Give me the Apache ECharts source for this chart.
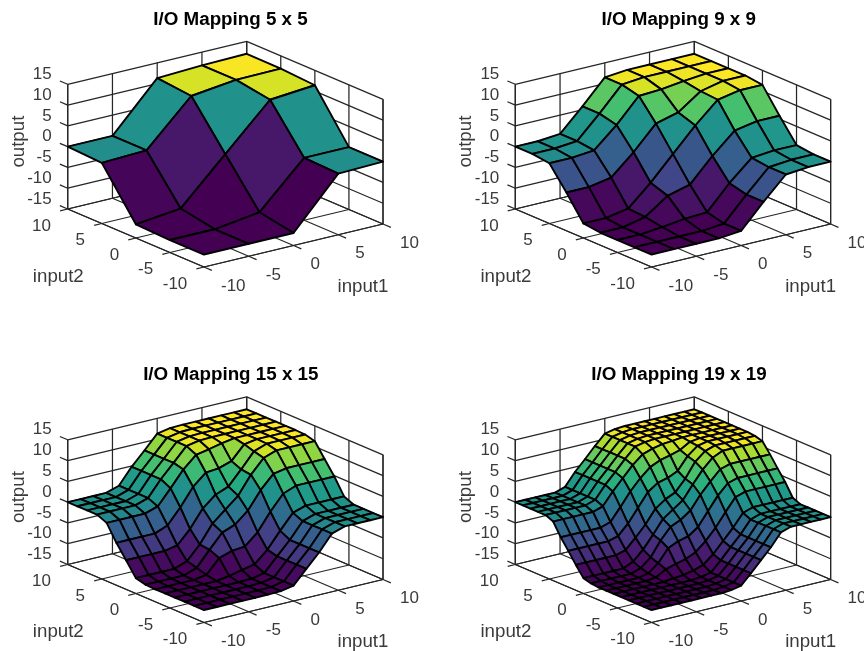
<!DOCTYPE html>
<html><head><meta charset="utf-8">
<style>html,body{margin:0;padding:0;background:#fff}#c{width:864px;height:651px;filter:blur(.35px)}</style>
<script src="https://cdn.jsdelivr.net/npm/echarts@6/dist/echarts.min.js"></script>
</head><body><div id="c"></div>
<script>
const titles = ['I/O Mapping 5 x 5','I/O Mapping 9 x 9','I/O Mapping 15 x 15','I/O Mapping 19 x 19'];
const xyTicks = [-10,-5,0,5,10];
const zTicks = [-15,-10,-5,0,5,10,15];
const input5 = [-10,-5,0,5,10];
const input9 = [-10,-7.5,-5,-2.5,0,2.5,5,7.5,10];
const input15 = [-10,-8.571,-7.143,-5.714,-4.286,-2.857,-1.429,0,1.429,2.857,4.286,5.714,7.143,8.571,10];
const input19 = [-10,-8.889,-7.778,-6.667,-5.556,-4.444,-3.333,-2.222,-1.111,0,1.111,2.222,3.333,4.444,5.556,6.667,7.778,8.889,10];
const output5 = [
[-12,-12,-12,-0.3,0],
[-12,-12,-10.5,0,0],
[-11.7,-10.5,0,10.5,11.4],
[-0.4,0,10.5,11.8,11.9],
[0,0,11.3,11.8,12]];
const output9 = [
[-12,-12,-12,-12,-11.5,-5.8,-0.5,0,0],
[-12,-12,-12,-12,-11.5,-5.8,-0.5,0,0],
[-12,-12,-11.5,-10.8,-10.5,-4.8,0,0.5,0.5],
[-12,-12,-10.8,-7,-5.6,0,4.8,5.8,5.8],
[-11.5,-11.5,-10.5,-5.6,0,5.6,10.5,11.5,11.5],
[-5.8,-5.8,-4.8,0,5.6,7,10.8,12,12],
[-0.5,-0.5,0,4.8,10.5,10.8,11.5,12,12],
[0,0,0.5,5.8,11.5,12,12,12,12],
[0,0,0.5,5.8,11.5,12,12,12,12]];
const output15 = [
[-12,-12,-12,-12,-12,-12,-11.9,-11.3,-8,-4.8,-1,0,0,0,0],
[-12,-12,-12,-12,-12,-12,-11.9,-11.3,-8,-4.8,-1,0,0,0,0],
[-12,-12,-12,-12,-12,-12,-11.9,-11.3,-8,-4.8,-1,0,0,0,0],
[-12,-12,-12,-12,-12,-12,-11.9,-11.3,-8,-4.8,-1,0,0,0,0],
[-12,-12,-12,-12,-12,-11.5,-10.8,-10.2,-7.4,-3.6,0,1,1,1,1],
[-12,-12,-12,-12,-11.5,-8.2,-7.2,-6.9,-4.2,0,3.6,4.8,4.8,4.8,4.8],
[-11.9,-11.9,-11.9,-11.9,-10.8,-7.2,-3.8,-2.6,0,4.2,7.4,8,8,8,8],
[-11.3,-11.3,-11.3,-11.3,-10.2,-6.9,-2.6,0,2.6,6.9,10.2,11.3,11.3,11.3,11.3],
[-8,-8,-8,-8,-7.4,-4.2,0,2.6,3.8,7.2,10.8,11.9,11.9,11.9,11.9],
[-4.8,-4.8,-4.8,-4.8,-3.6,0,4.2,6.9,7.2,8.2,11.5,12,12,12,12],
[-1,-1,-1,-1,0,3.6,7.4,10.2,10.8,11.5,12,12,12,12,12],
[0,0,0,0,1,4.8,8,11.3,11.9,12,12,12,12,12,12],
[0,0,0,0,1,4.8,8,11.3,11.9,12,12,12,12,12,12],
[0,0,0,0,1,4.8,8,11.3,11.9,12,12,12,12,12,12],
[0,0,0,0,1,4.8,8,11.3,11.9,12,12,12,12,12,12]];
const output19 = [
[-12,-12,-12,-12,-12,-12,-12,-12,-11.8,-11.3,-8.9,-6.3,-3.8,-0.8,0,0,0,0,0],
[-12,-12,-12,-12,-12,-12,-12,-12,-11.8,-11.3,-8.9,-6.3,-3.8,-0.8,0,0,0,0,0],
[-12,-12,-12,-12,-12,-12,-12,-12,-11.8,-11.3,-8.9,-6.3,-3.8,-0.8,0,0,0,0,0],
[-12,-12,-12,-12,-12,-12,-12,-12,-11.8,-11.3,-8.9,-6.3,-3.8,-0.8,0,0,0,0,0],
[-12,-12,-12,-12,-12,-12,-12,-12,-11.8,-11.3,-8.9,-6.3,-3.8,-0.8,0,0,0,0,0],
[-12,-12,-12,-12,-12,-12,-11.7,-11.5,-11,-10.2,-8.2,-5.6,-3,0,0.8,0.8,0.8,0.8,0.8],
[-12,-12,-12,-12,-12,-11.7,-10.3,-9.6,-9,-7.9,-5.8,-3.2,0,3,3.8,3.8,3.8,3.8,3.8],
[-12,-12,-12,-12,-12,-11.5,-9.6,-6.6,-5.5,-4.9,-3.2,0,3.2,5.6,6.3,6.3,6.3,6.3,6.3],
[-11.8,-11.8,-11.8,-11.8,-11.8,-11,-9,-5.5,-2.8,-1.7,0,3.2,5.8,8.2,8.9,8.9,8.9,8.9,8.9],
[-11.3,-11.3,-11.3,-11.3,-11.3,-10.2,-7.9,-4.9,-1.7,0,1.7,4.9,7.9,10.2,11.3,11.3,11.3,11.3,11.3],
[-8.9,-8.9,-8.9,-8.9,-8.9,-8.2,-5.8,-3.2,0,1.7,2.8,5.5,9,11,11.8,11.8,11.8,11.8,11.8],
[-6.3,-6.3,-6.3,-6.3,-6.3,-5.6,-3.2,0,3.2,4.9,5.5,6.6,9.6,11.5,12,12,12,12,12],
[-3.8,-3.8,-3.8,-3.8,-3.8,-3,0,3.2,5.8,7.9,9,9.6,10.3,11.7,12,12,12,12,12],
[-0.8,-0.8,-0.8,-0.8,-0.8,0,3,5.6,8.2,10.2,11,11.5,11.7,12,12,12,12,12,12],
[0,0,0,0,0,0.8,3.8,6.3,8.9,11.3,11.8,12,12,12,12,12,12,12,12],
[0,0,0,0,0,0.8,3.8,6.3,8.9,11.3,11.8,12,12,12,12,12,12,12,12],
[0,0,0,0,0,0.8,3.8,6.3,8.9,11.3,11.8,12,12,12,12,12,12,12,12],
[0,0,0,0,0,0.8,3.8,6.3,8.9,11.3,11.8,12,12,12,12,12,12,12,12],
[0,0,0,0,0,0.8,3.8,6.3,8.9,11.3,11.8,12,12,12,12,12,12,12,12]];
const viridis = ['#440154','#482475','#414487','#355f8d','#2a788e','#21918c','#22a884','#44bf70','#7ad151','#bddf26','#fde725'];

const inputs = [input5,input9,input15,input19];
const outputs = [output5,output9,output15,output19];
const panelOrigin = [[67.7,41.3],[515.3,41.3],[67.7,396.8],[515.3,396.8]];
const titleCentre = [[225.5,15],[673.7,15],[225.8,370],[674,370]];
const PW=315.3, PH=225.7;
// orthographic view: fractions of the projected box
const U0=.4323, UX=.5677, UY=-.4323, VX=.1905, VY=.257, VZ=.5525;
function proj(x,y,z){
  const a=(x+10)/20,b=(y+10)/20,c=(z+15)/30;
  return [U0+UX*a+UY*b, VX*a+VY*b+VZ*c];
}
const AXC='#262626', TXT='#3a3a3a', FONT='Liberation Sans', FS=17, FSL=18.7;
const colorOf=z=>echarts.color.lerp(Math.max(0,Math.min(1,(z+12)/24)),viridis);

function wallSegments(){
  const s=[];
  xyTicks.forEach(t=>{
    s.push([t,10,-15,t,10,15,0],[10,t,-15,10,t,15,0],[t,-10,-15,t,10,-15,0],[-10,t,-15,10,t,-15,0]);
  });
  zTicks.forEach(t=>{ s.push([-10,10,t,10,10,t,0],[10,-10,t,10,10,t,0]); });
  s.push([-10,10,-15,-10,10,15,1],[10,-10,-15,10,-10,15,1],[-10,-10,-15,10,-10,-15,1],[-10,-10,-15,-10,10,-15,1]);
  zTicks.forEach(t=>s.push([-10,10,t,-10,11.15,t,1]));
  xyTicks.forEach(t=>{ s.push([t,-10,-15,t,-11.15,-15,1],[-10,t,-15,-10-0.85,t,-15,1]); });
  return s;
}
function textItems(){
  const r=[];
  zTicks.forEach(t=>r.push([-10,10,t,String(t),-16,-10,'right',0,FS]));
  xyTicks.forEach(t=>{
    r.push([t,-10,-15,String(t),17,19,'left',0,FS]);
    r.push([-10,t,-15,String(t),-16.7,17,'right',0,FS]);
  });
  r.push([10,-10,-15,'input1',-20,62.5,'center',0,FSL]);
  r.push([-10,10,-15,'input2',-9.4,67.5,'center',0,FSL]);
  r.push([-10,10,0,'output',-49,-5,'center',Math.PI/2,FSL]);
  return r;
}
function coordOf(api,p){ return api.coord(proj(p[0],p[1],p[2])); }
const series=[];
inputs.forEach((inp,k)=>{
  const zs=outputs[k], n=inp.length, faces=[];
  for(let s=2*(n-2);s>=0;s--) for(let j=n-2;j>=0;j--){const i=s-j; if(i>=0&&i<=n-2) faces.push([i,j]);}
  series.push({type:'custom',xAxisIndex:k,yAxisIndex:k,silent:true,z:1,animation:false,
    data:wallSegments(),
    renderItem:(p,api)=>{
      const a=coordOf(api,[api.value(0),api.value(1),api.value(2)]),b=coordOf(api,[api.value(3),api.value(4),api.value(5)]);
      return {type:'line',shape:{x1:a[0],y1:a[1],x2:b[0],y2:b[1]},style:{stroke:AXC,lineWidth:1.25}};
    }});
  series.push({type:'custom',xAxisIndex:k,yAxisIndex:k,silent:true,z:2,animation:false,
    data:faces,
    renderItem:(p,api)=>{
      const i=api.value(0),j=api.value(1);
      const pts=[[i,j],[i+1,j],[i+1,j+1],[i,j+1]].map(q=>coordOf(api,[inp[q[0]],inp[q[1]],zs[q[1]][q[0]]]));
      return {type:'polygon',shape:{points:pts},style:{fill:colorOf(zs[j][i]),stroke:'#000',lineWidth:1.9,lineJoin:'round'}};
    }});
  const items=textItems();
  series.push({type:'custom',xAxisIndex:k,yAxisIndex:k,silent:true,z:3,animation:false,
    data:items.map((d,idx)=>[d[0],d[1],d[2],idx]),
    renderItem:(p,api)=>{
      const d=items[api.value(3)], c=coordOf(api,[d[0],d[1],d[2]]);
      return {type:'text',x:c[0]+d[4],y:c[1]+d[5],rotation:d[7],
        style:{text:d[3],fill:TXT,font:d[8]+'px "'+FONT+'"',align:d[6],verticalAlign:'middle'}};
    }});
});
const chart=echarts.init(document.getElementById('c'),null,{renderer:'canvas'});
chart.setOption({
  animation:false,backgroundColor:'#fff',
  title:titles.map((t,k)=>({text:t,left:titleCentre[k][0],top:titleCentre[k][1],textAlign:'center',textVerticalAlign:'middle',
    textStyle:{fontFamily:FONT,fontWeight:'bold',fontSize:18.8,color:'#000'}})),
  grid:panelOrigin.map(o=>({left:o[0],top:o[1],width:PW,height:PH,containLabel:false})),
  xAxis:panelOrigin.map((o,k)=>({type:'value',gridIndex:k,min:0,max:1,show:false})),
  yAxis:panelOrigin.map((o,k)=>({type:'value',gridIndex:k,min:0,max:1,show:false})),
  series
});
</script></body></html>
